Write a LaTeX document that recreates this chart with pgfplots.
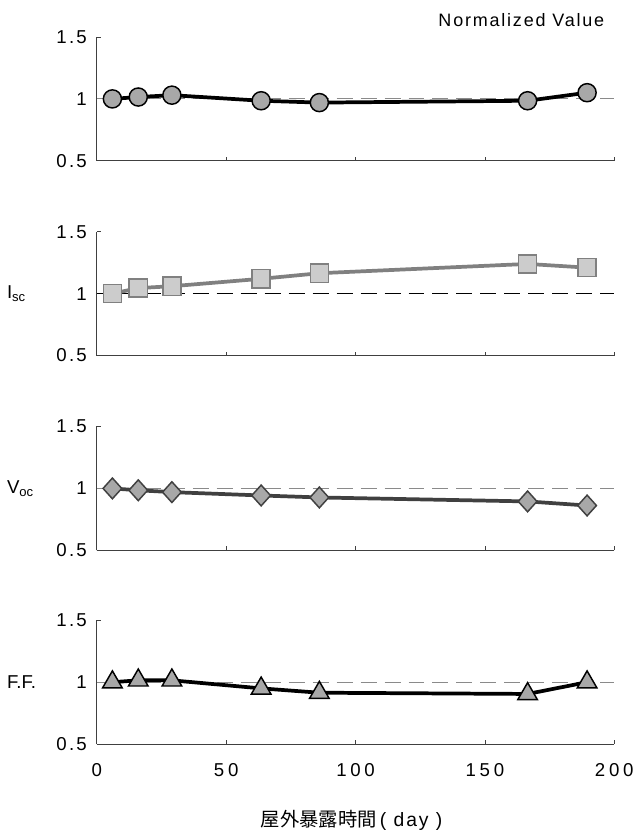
\documentclass[border=0pt]{standalone}
\usepackage{pgfplots}
\pgfplotsset{compat=1.18}
\usepackage{fontspec}
\setmainfont{Liberation Sans}
\newfontfamily\cjk{Noto Sans CJK JP}
\newfontfamily\tickfont[LetterSpace=12]{Liberation Sans}
\newfontfamily\xtickfont[LetterSpace=20]{Liberation Sans}
\newfontfamily\labfont[LetterSpace=10]{Liberation Sans}
\definecolor{mk}{HTML}{A8A8A8}
\definecolor{mkl}{HTML}{CCCCCC}
\definecolor{ln2}{HTML}{808080}
\definecolor{ln3}{HTML}{404040}
\definecolor{dashgray}{HTML}{8A8A8A}
\pgfplotsset{
  panel/.style={
    scale only axis, width=388.5pt, height=93pt,
    xmin=0, xmax=200, ymin=0.5, ymax=1.5,
    axis x line*=bottom, axis y line*=left,
    axis line style={black!75, line width=0.6pt},
    xtick={0,50,100,150,200}, ytick={0.5,1,1.5},
    yticklabels={0.5,1,1.5},
    xticklabels={},
    tick align=inside, major tick length=3pt,
    tick style={black!75, line width=0.6pt},
    /pgf/number format/assume math mode=true,
    yticklabel style={font=\tickfont\fontsize{14}{16}\selectfont, xshift=-4pt},
    xticklabel style={font=\xtickfont\fontsize{14}{16}\selectfont, yshift=-11pt},
    clip=false,
  },
  refline/.style={dashgray, line width=0.7pt, dash pattern=on 12pt off 6pt},
}
\begin{document}
\begin{tikzpicture}
\useasboundingbox (-72.75pt,-504pt) rectangle (405.75pt,120.75pt);
% Panel 1
\begin{axis}[panel, name=p1, at={(0,0)}, anchor=south west]
\addplot[refline, forget plot] coordinates {(0,1) (200,1)};
\addplot[black, line width=2.8pt, mark=*, mark size=6.8pt,
  mark options={fill=mk, draw=black, line width=1.1pt}]
  coordinates {(6,1.00) (16,1.015) (29,1.03) (63.5,0.985) (86,0.97) (166.5,0.985) (189.5,1.05)};
\end{axis}
\node[anchor=base east, font=\labfont\fontsize{13.5}{16}\selectfont] at ([xshift=-4pt,yshift=8pt]p1.north east) {Normalized Value};
% Panel 2
\begin{axis}[panel, name=p2, at={(0,-146.25pt)}, anchor=south west]
\addplot[black, line width=0.7pt, dash pattern=on 12pt off 6pt, forget plot] coordinates {(0,1) (200,1)};
\addplot[ln2, line width=2.8pt, mark=square*, mark size=6.8pt,
  mark options={fill=mkl, draw=ln2, line width=1.1pt}]
  coordinates {(6,1.00) (16,1.045) (29,1.06) (63.5,1.12) (86,1.165) (166.5,1.24) (189.5,1.21)};
\end{axis}
\node[anchor=west, font=\fontsize{14}{16}\selectfont] at ([xshift=-71pt]p2.west) {I\textsubscript{sc}};
% Panel 3
\begin{axis}[panel, name=p3, at={(0,-292.5pt)}, anchor=south west]
\addplot[refline, forget plot] coordinates {(0,1) (200,1)};
\addplot[ln3, line width=2.8pt, mark=diamond*, mark size=7.8pt,
  mark options={fill=mk, draw=ln3, line width=1.1pt, xscale=1.2}]
  coordinates {(6,1.00) (16,0.985) (29,0.97) (63.5,0.943) (86,0.927) (166.5,0.895) (189.5,0.862)};
\end{axis}
\node[anchor=west, font=\fontsize{14}{16}\selectfont] at ([xshift=-71pt]p3.west) {V\textsubscript{oc}};
% Panel 4
\begin{axis}[panel, name=p4, at={(0,-438pt)}, anchor=south west,
  xticklabels={0,50,100,150,200}]
\addplot[refline, forget plot] coordinates {(0,1) (200,1)};
\addplot[black, line width=2.8pt, mark=triangle*, mark size=8.5pt,
  mark options={fill=mk, draw=black, line width=1.1pt}]
  coordinates {(6,1.00) (16,1.015) (29,1.015) (63.5,0.95) (86,0.915) (166.5,0.905) (189.5,1.00)};
\end{axis}
\node[anchor=west, font=\fontsize{14}{16}\selectfont] at ([xshift=-71pt]p4.west) {F.F.};
\node[anchor=center, font=\fontsize{14.5}{17}\selectfont] at ([xshift=-3pt,yshift=-57pt]p4.south) {{\cjk 屋外暴露時間}\,{\labfont( day )}};
\end{tikzpicture}
\end{document}
